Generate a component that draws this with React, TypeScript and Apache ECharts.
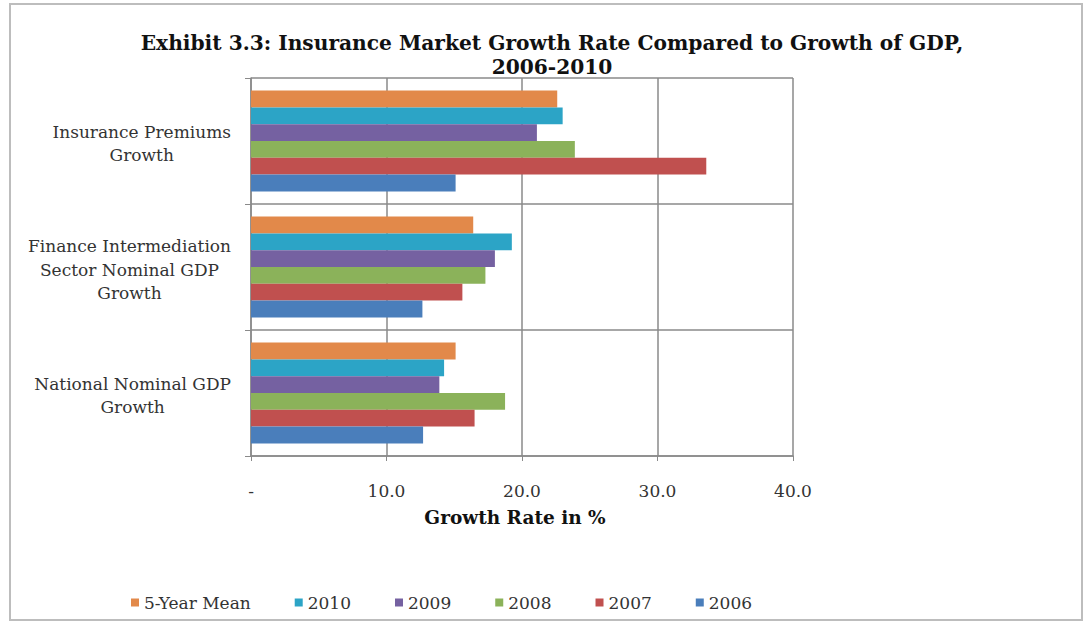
import React, { useEffect, useRef } from "react";
import * as echarts from "echarts";

const categories = [
  "Insurance Premiums\nGrowth",
  "Finance Intermediation\nSector Nominal GDP\nGrowth",
  "National Nominal GDP\nGrowth",
];
const seriesNames = ["5-Year Mean", "2010", "2009", "2008", "2007", "2006"];
const mean5 = [22.6, 16.4, 15.1];
const v2010 = [23.0, 19.25, 14.25];
const v2009 = [21.1, 18.0, 13.9];
const v2008 = [23.9, 17.3, 18.75];
const v2007 = [33.6, 15.6, 16.5];
const v2006 = [15.1, 12.65, 12.7];
const xTicks = [0, 10, 20, 30, 40];
const colors = ["#E2894A", "#2CA4C6", "#7561A1", "#8BB25A", "#C0504F", "#4A7EBB"];

const FONT = "'DejaVu Serif', 'Liberation Serif', serif";

export default function App() {
  const ref = useRef<HTMLDivElement>(null);
  useEffect(() => {
    document.body.style.margin = "0";
    const chart = echarts.init(ref.current!, null, { renderer: "svg" });
    const values = [mean5, v2010, v2009, v2008, v2007, v2006];
    chart.setOption({
      animation: false,
      backgroundColor: "#ffffff",
      title: {
        text: "Exhibit 3.3: Insurance Market Growth Rate Compared to Growth of GDP,\n2006-2010",
        left: 552,
        top: 31,
        textAlign: "center",
        padding: 0,
        textStyle: {
          fontFamily: FONT,
          fontWeight: "bold",
          fontSize: 20.2,
          lineHeight: 24,
          color: "#111",
        },
      },
      graphic: [
        {
          type: "rect",
          shape: { x: 10, y: 4, width: 1072, height: 616 },
          style: { fill: "none", stroke: "#bdbdbd", lineWidth: 2 },
          silent: true,
        },
      ],
      legend: {
        left: 126,
        top: 589,
        itemWidth: 8,
        itemHeight: 8,
        itemGap: 44,
        icon: "rect",
        data: seriesNames,
        textStyle: { fontFamily: FONT, fontSize: 17, color: "#333", padding: [5, 0, 0, 0] },
      },
      grid: { left: 251, right: 294, top: 78, bottom: 166 },
      xAxis: {
        type: "value",
        min: xTicks[0],
        max: xTicks[xTicks.length - 1],
        interval: 10,
        name: "Growth Rate in %",
        nameLocation: "middle",
        nameGap: 52,
        nameTextStyle: {
          fontFamily: FONT,
          fontWeight: "bold",
          fontSize: 18.5,
          color: "#111",
          padding: [0, 14, 0, 0],
        },
        axisLine: { show: true, lineStyle: { color: "#8a8a8a", width: 1.5 } },
        axisTick: { show: true, length: 5, lineStyle: { color: "#8a8a8a" } },
        splitLine: { show: true, lineStyle: { color: "#8a8a8a", width: 1.5 } },
        axisLabel: {
          margin: 26,
          fontFamily: FONT,
          fontSize: 17,
          color: "#333",
          formatter: (v: number) => (v === 0 ? "-" : v.toFixed(1)),
        },
      },
      yAxis: {
        type: "category",
        inverse: true,
        data: categories,
        axisLine: { show: true, lineStyle: { color: "#8a8a8a", width: 1.5 } },
        axisTick: { show: true, length: 6, interval: 0, lineStyle: { color: "#8a8a8a" } },
        splitLine: { show: true, interval: 0, lineStyle: { color: "#8a8a8a", width: 1.5 } },
        axisLabel: {
          margin: 20,
          interval: 0,
          align: "right",
          padding: [5, 0, 0, 0],
          fontFamily: FONT,
          fontSize: 17,
          color: "#333",
          formatter: (v: string) =>
            v
              .split("\n")
              .map((l) => `{c|${l}}`)
              .join("\n"),
          rich: {
            c: {
              align: "center",
              fontFamily: FONT,
              fontSize: 17,
              lineHeight: 23.5,
              color: "#333",
            },
          },
        },
      },
      series: seriesNames.map((name, i) => ({
        name,
        type: "bar",
        data: values[i],
        barGap: "0%",
        barCategoryGap: "20%",
        itemStyle: { color: colors[i] },
      })),
    });
    return () => chart.dispose();
  }, []);
  return (
    <div
      ref={ref}
      style={{ position: "absolute", left: 0, top: 0, width: 1087, height: 622 }}
    />
  );
}
